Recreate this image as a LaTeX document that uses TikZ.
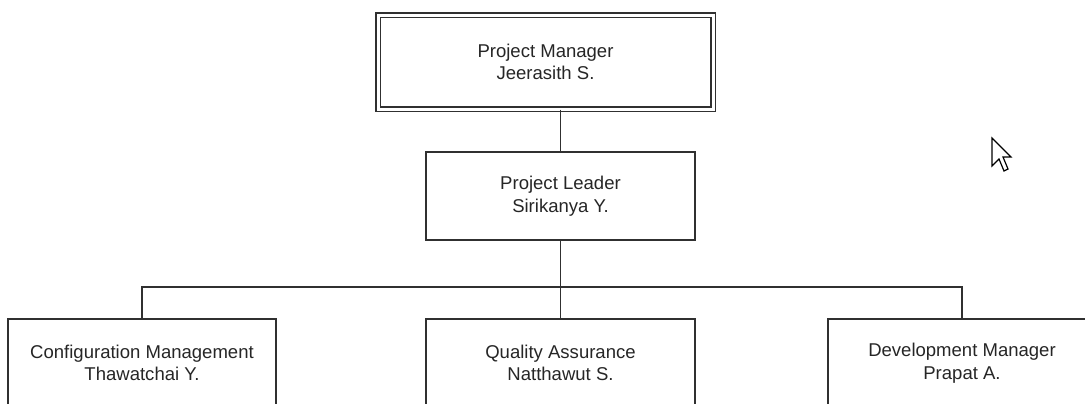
\documentclass[tikz,border=0pt]{standalone}
\usepackage{fontspec}
\setmainfont{Liberation Sans}
\begin{document}
\begin{tikzpicture}[x=1bp,y=-1bp,
  box/.style={draw=linec, line width=1.6bp, fill=white, align=center,
    font=\fontsize{18.6}{22.5}\selectfont, text=txtc, inner sep=0pt},
  wire/.style={draw=linec, line width=1.8bp}]
\definecolor{linec}{HTML}{303030}
\definecolor{txtc}{HTML}{262626}
\useasboundingbox (0,0) rectangle (1085,403);
\clip (0,0) rectangle (1085,403);
\fill[white] (0,0) rectangle (1085,403);
% nodes
\node[box, minimum width=335bp, minimum height=94bp, double=white, double distance=3bp, line width=1.4bp] (pm) at (545.5,62) {Project Manager\\Jeerasith S.};
\node[box, minimum width=269bp, minimum height=88bp] (pl) at (560.5,196) {Project Leader\\Sirikanya Y.};
\node[box, minimum width=268bp, minimum height=88bp] (cm) at (142,363) {Configuration Management\\Thawatchai Y.};
\node[box, minimum width=269bp, minimum height=88bp] (qa) at (560.5,363) {Quality Assurance\\Natthawut S.};
\node[box, minimum width=268bp, minimum height=88bp] (dm) at (962,363) {Development Manager\\Prapat A.};
\coordinate (bus) at (560.5,287);
% connectors
\draw[wire] (pm.south -| pl.north) -- (pl.north);
\draw[wire] (pl.south) -- (qa.north);
\draw[wire] (cm.north) |- (bus) -| (dm.north);
% mouse cursor
\draw[black, fill=white, line width=1.2bp, line join=miter]
  (992,138) -- (992,166) -- (999,159) -- (1004,171) -- (1008,169) -- (1003,157) -- (1011,157) -- cycle;
\end{tikzpicture}
\end{document}
